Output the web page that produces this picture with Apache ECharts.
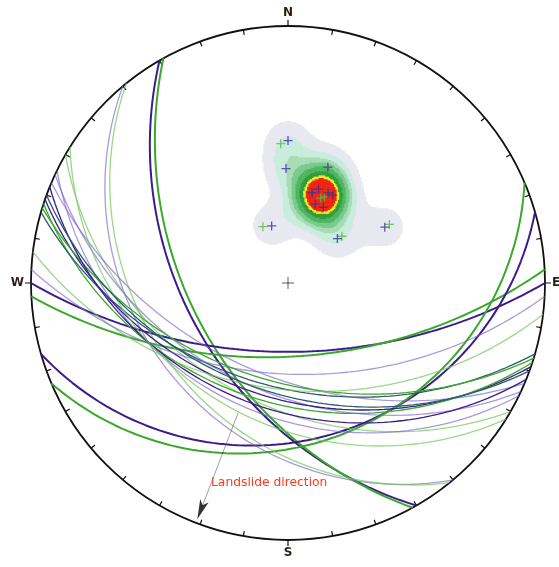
<!DOCTYPE html>
<html><head><meta charset="utf-8">
<script src="https://cdn.jsdelivr.net/npm/echarts@6/dist/echarts.min.js"></script>
<style>html,body{margin:0;padding:0;background:#fff}#c{width:559px;height:567px}</style>
</head><body><div id="c"></div>
<script>
// ---------------- data ----------------
const cardinalAngles = [0, 90, 180, 270];
const cardinalLabels = ['N', 'E', 'S', 'W'];

// planes: dip direction (deg), dip (deg), family
const planeDipDir = [240, 241, 180, 177, 164, 157, 230, 231, 210, 206, 205, 203, 199, 198, 196, 197, 187, 183, 202, 212, 200];
const planeDip    = [ 47,  49,  60,  58,  27,  26,  30,  32,  40,  36,  44,  50,  42,  40,  46,  48,  45,  51,  38,  34,  44];
const planeGroup  = ['P', 'G', 'P', 'G', 'P', 'G', 'LP', 'LG', 'LG', 'LP', 'LP', 'LP', 'p', 'g', 'T', 'g', 'LG', 'LP', 'p', 'LG', 'T'];

// poles set A (purple) and set B (green): trend, plunge
const poleTrendA  = [0, 359, 19, 15, 24, 27, 19, 25, 18, 344, 48, 60];
const polePlungeA = [32, 42, 39, 50, 48, 48, 54, 54, 48, 64, 61, 43];
const poleTrendB  = [357, 336, 49, 60, 21, 23];
const polePlungeB = [33, 63, 59, 41, 51, 50];

// landslide direction arrow
const landslideTrend = 201;
const landslideFrom = 0.54;
const landslideTo = 0.985;
const landslideLabel = 'Landslide direction';

// contour levels (density of set A poles)
const contourLevels = [0.61, 1.2, 1.7, 2.1, 2.6, 3.2, 3.8, 4.15];

// ---------------- layout / style ----------------
const CX = 288, CY = 283, R = 257;
const groupStyle = {
  P:  {color: '#3b1c8c', width: 2},
  G:  {color: '#3aa82a', width: 2},
  p:  {color: '#3b1c8c', width: 1.3},
  g:  {color: '#3aa82a', width: 1.3},
  LP: {color: 'rgba(120,100,200,0.65)', width: 1.3},
  LG: {color: 'rgba(110,200,85,0.7)', width: 1.3},
  T:  {color: '#2d5a6e', width: 1.3}
};
const levelColors = ['#e8e8f1', '#c8ecdd', '#a6dcb4', '#78ca8c', '#4db55e', '#2f9c3c', '#eeee22', '#f0230f'];

// ---------------- projection (equal angle, lower hemisphere) ----------------
const d2r = Math.PI / 180;
function projVec(e, n, u) { const k = 1 - u; return [e / k, n / k]; }
function lineToXY(trend, plunge) {
  const t = trend * d2r, p = plunge * d2r;
  return projVec(Math.cos(p) * Math.sin(t), Math.cos(p) * Math.cos(t), -Math.sin(p));
}
function planeCurve(dd, dip) {
  const s = (dd - 90) * d2r, a = dd * d2r, b = dip * d2r;
  const S = [Math.sin(s), Math.cos(s), 0];
  const D = [Math.sin(a) * Math.cos(b), Math.cos(a) * Math.cos(b), -Math.sin(b)];
  const pts = [];
  for (let k = 0; k <= 180; k += 2) {
    const t = k * d2r, c = Math.cos(t), sn = Math.sin(t);
    pts.push(projVec(c * S[0] + sn * D[0], c * S[1] + sn * D[1], c * S[2] + sn * D[2]));
  }
  return pts;
}
function radialXY(az, r) { return [r * Math.sin(az * d2r), r * Math.cos(az * d2r)]; }

const polesA = poleTrendA.map((t, i) => lineToXY(t, polePlungeA[i]));
const polesB = poleTrendB.map((t, i) => lineToXY(t, polePlungeB[i]));

// density grid (from set A)
const ux0 = -0.25, ux1 = 0.55, uy0 = 0.05, uy1 = 0.75, du = 0.005;
const nx = Math.round((ux1 - ux0) / du), ny = Math.round((uy1 - uy0) / du);
const sig = 18 / R;
const heat = [];
for (let j = 0; j < ny; j++) {
  for (let i = 0; i < nx; i++) {
    const ux = ux0 + (i + 0.5) * du, uy = uy0 + (j + 0.5) * du;
    let d = 0;
    polesA.forEach(p => { const dx = ux - p[0], dy = uy - p[1]; d += Math.exp(-(dx * dx + dy * dy) / (2 * sig * sig)); });
    if (d >= contourLevels[0]) heat.push([i, j, d]);
  }
}
const pieces = contourLevels.map((lv, k) => k < contourLevels.length - 1
  ? {min: lv, max: contourLevels[k + 1], color: levelColors[k]}
  : {min: lv, color: levelColors[k]});

const crossPath = 'path://M5,0L5,10M0,5L10,5';
const minorTicks = [];
for (let a = 0; a < 360; a += 10) if (cardinalAngles.indexOf(a) < 0) minorTicks.push(a);

const series = [];
series.push({
  type: 'heatmap', xAxisIndex: 1, yAxisIndex: 1, data: heat, progressive: 0,
  itemStyle: {borderWidth: 0}, emphasis: {disabled: true}, silent: true, z: 1
});
planeDipDir.forEach((dd, i) => {
  const st = groupStyle[planeGroup[i]];
  series.push({
    type: 'line', xAxisIndex: 0, yAxisIndex: 0, data: planeCurve(dd, planeDip[i]),
    showSymbol: false, symbol: 'none', silent: true, z: 3,
    lineStyle: {color: st.color, width: st.width}
  });
});
const headLen = 20 / R;
series.push({
  type: 'lines', coordinateSystem: 'cartesian2d', xAxisIndex: 0, yAxisIndex: 0, silent: true, z: 4,
  data: [{coords: [radialXY(landslideTrend, landslideFrom), radialXY(landslideTrend, landslideTo - headLen * 0.7)]}],
  lineStyle: {color: '#444', width: 1}, symbol: ['none', 'none']
});
series.push({
  type: 'scatter', xAxisIndex: 0, yAxisIndex: 0, silent: true, z: 4,
  data: [radialXY(landslideTrend, landslideTo - headLen / 2)],
  symbol: 'path://M4.5,0L9,20L4.5,15L0,20Z', symbolSize: [9, 20], symbolRotate: 360 - landslideTrend,
  itemStyle: {color: '#000'}
});
series.push({
  type: 'scatter', xAxisIndex: 0, yAxisIndex: 0, data: polesA, symbol: crossPath, symbolSize: 9, silent: true, z: 6,
  itemStyle: {color: 'transparent', borderColor: '#3a2f9e', borderWidth: 1.3}
});
series.push({
  type: 'scatter', xAxisIndex: 0, yAxisIndex: 0, data: polesB, symbol: crossPath, symbolSize: 9, silent: true, z: 5,
  itemStyle: {color: 'transparent', borderColor: '#5cb84a', borderWidth: 1.3}
});
series.push({
  type: 'scatter', xAxisIndex: 0, yAxisIndex: 0, data: [[0, 0]], symbol: crossPath, symbolSize: 12, silent: true, z: 6,
  itemStyle: {color: 'transparent', borderColor: '#333', borderWidth: 1}
});

const heatIdx = 0;
const chart = echarts.init(document.getElementById('c'), null, {renderer: 'canvas'});
chart.setOption({
  animation: false,
  backgroundColor: '#fff',
  grid: [
    {left: CX - R, top: CY - R, width: 2 * R, height: 2 * R},
    {left: CX + R * ux0, top: CY - R * uy1, width: R * (ux1 - ux0), height: R * (uy1 - uy0)}
  ],
  xAxis: [
    {gridIndex: 0, type: 'value', min: -1, max: 1, show: false},
    {gridIndex: 1, type: 'category', data: Array.from({length: nx}, (_, i) => i), show: false}
  ],
  yAxis: [
    {gridIndex: 0, type: 'value', min: -1, max: 1, show: false},
    {gridIndex: 1, type: 'category', data: Array.from({length: ny}, (_, i) => i), show: false}
  ],
  polar: [
    {center: [CX, CY], radius: R},
    {center: [CX, CY], radius: R}
  ],
  angleAxis: [
    {polarIndex: 0, type: 'value', min: 0, max: 360, interval: 10, startAngle: 90, clockwise: true,
     axisLine: {lineStyle: {color: '#111', width: 1.8}},
     axisTick: {inside: true, length: 5, customValues: minorTicks, lineStyle: {color: '#111', width: 1.2}},
     axisLabel: {show: false}, splitLine: {show: false}, splitArea: {show: false}, silent: true},
    {polarIndex: 1, type: 'value', min: 0, max: 360, interval: 90, startAngle: 90, clockwise: true,
     axisLine: {show: false},
     axisTick: {inside: false, length: 6, lineStyle: {color: '#111', width: 1.2}},
     axisLabel: {margin: 7, color: '#2a1f14', fontWeight: 'bold', fontSize: 12, fontFamily: 'DejaVu Sans',
       formatter: v => { const k = cardinalAngles.indexOf(v); return k >= 0 ? cardinalLabels[k] : ''; }},
     splitLine: {show: false}, splitArea: {show: false}, silent: true}
  ],
  radiusAxis: [
    {polarIndex: 0, min: 0, max: 1, show: false, splitLine: {show: false}},
    {polarIndex: 1, min: 0, max: 1, show: false, splitLine: {show: false}}
  ],
  visualMap: {type: 'piecewise', show: false, seriesIndex: heatIdx, dimension: 2, pieces: pieces,
              outOfRange: {color: 'rgba(0,0,0,0)'}},
  graphic: [{type: 'text', left: 211, top: 477, z: 10, silent: true,
    style: {text: landslideLabel, fill: '#ff3a1f', font: '12.3px "DejaVu Sans"'}}],
  series: series
});
</script></body></html>
